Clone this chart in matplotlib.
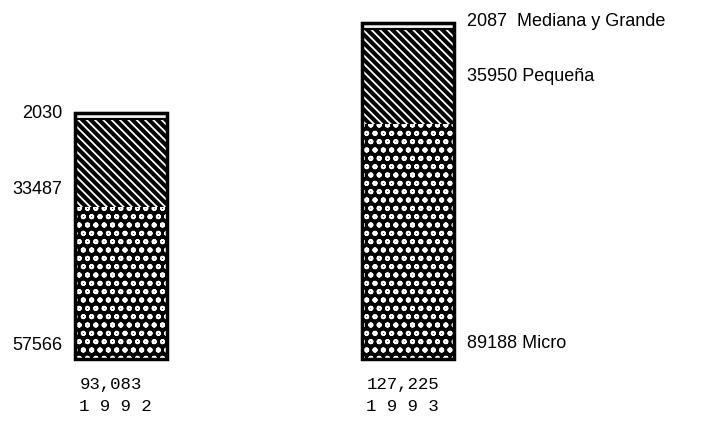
import matplotlib
matplotlib.use("Agg")
import matplotlib.pyplot as plt
import numpy as np

years = ["1 9 9 2", "1 9 9 3"]
totals = ["93,083", "127,225"]
micro = [57566, 89188]
pequena = [33487, 35950]
mediana = [2030, 2087]
series_names = ["Micro", "Pequeña", "Mediana y Grande"]

plt.rcParams['hatch.linewidth'] = 1.3
fig = plt.figure(figsize=(7.04, 4.33), dpi=100)
ax = fig.add_axes([0, 0, 1, 1])
ax.set_xlim(-0.4216, 2.031)
ax.set_ylim(-28030, 135985)
ax.axis("off")

x = np.arange(len(years))
w = 0.32
micro_a = np.array(micro)
peq_a = np.array(pequena)
med_a = np.array(mediana)

# Micro: speckled texture
ax.bar(x, micro_a, w, color="black", hatch="oo", edgecolor="white", linewidth=0)
# Pequeña: white diagonal lines on black
ax.bar(x, peq_a, w, bottom=micro_a, color="black", hatch="\\\\\\\\", edgecolor="white", linewidth=0)
# Mediana y Grande: light strip
ax.bar(x, med_a, w, bottom=micro_a + peq_a, color="#f0f0f0", edgecolor="black", linewidth=1.5)
# Outline
ax.bar(x, micro_a + peq_a + med_a, w, fill=False, edgecolor="black", linewidth=2.5)

fs = 13
fam = "Liberation Sans"
tot = micro_a + peq_a + med_a
# bar 1 labels on the left
xl = x[0] - w / 2 - 0.045
ax.text(xl, tot[0], f"{mediana[0]}", ha="right", va="center", fontsize=fs, family=fam)
ax.text(xl, micro_a[0] + 0.2 * peq_a[0], f"{pequena[0]}", ha="right", va="center", fontsize=fs, family=fam)
ax.text(xl, 5000, f"{micro[0]}", ha="right", va="center", fontsize=fs, family=fam)
# bar 2 labels on the right
xr = x[1] + w / 2 + 0.045
ax.text(xr, tot[1] + 600, f"{mediana[1]}  {series_names[2]}", ha="left", va="center", fontsize=fs, family=fam)
ax.text(xr, micro_a[1] + 0.5 * peq_a[1], f"{pequena[1]} {series_names[1]}", ha="left", va="center", fontsize=fs, family=fam)
ax.text(xr, 6000, f"{micro[1]} {series_names[0]}", ha="left", va="center", fontsize=fs, family=fam)

# totals and years below
for i in range(len(years)):
    xb = x[i] - w / 2 + 0.015
    ax.text(xb, -9500, totals[i], ha="left", va="center", fontsize=12.5, family="Liberation Mono")
    ax.text(xb, -18000, years[i], ha="left", va="center", fontsize=12.5, family="Liberation Mono")

fig.savefig("out.png", dpi=100)
